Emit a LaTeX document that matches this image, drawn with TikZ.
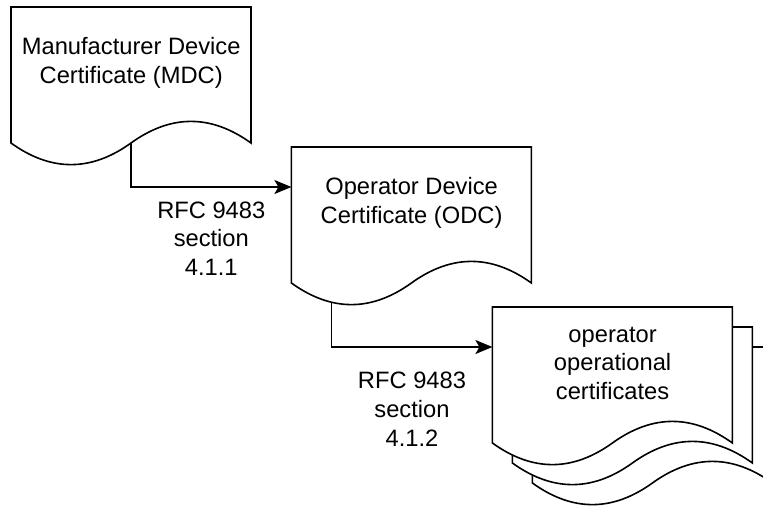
\documentclass[tikz,border=0pt]{standalone}
\usepackage{fontspec}
\setmainfont{Liberation Sans}
\usetikzlibrary{positioning, arrows.meta, backgrounds}

\tikzset{
  doc/.style={minimum width=240pt, minimum height=112pt, inner sep=0pt, align=center},
  page/.style={draw, line width=1.6pt, fill=white},
  conn/.style={line width=1.6pt, -{Stealth[length=17pt, width=14pt, inset=4pt]}},
  lbl/.style={inner sep=0pt, align=center, anchor=north}
}
% one sheet with a wavy lower edge, top left corner at #2
\newcommand{\docpage}[2][]{\draw[page, shift={(#2)}, #1] (0,0) -- (240,0) -- (240,136)
  .. controls (200,107.2) and (160,107.2) .. (120,136)
  .. controls (80,164.8) and (40,164.8) .. (0,136) -- cycle;}

\begin{document}
\begin{tikzpicture}[x=1pt, y=-1pt, font=\fontsize{23.7pt}{28.7pt}\selectfont]
\useasboundingbox (0,0) rectangle (763,507);
\node[doc, anchor=north west] (mdc) at (11,7) {Manufacturer Device\\Certificate (MDC)};
\node[doc, below right=140pt and 40pt of mdc.north east] (odc) {Operator Device\\Certificate (ODC)};
\node[doc, below right=160pt and 201pt of odc.north west] (ooc) {operator\\operational\\certificates};

\begin{scope}[on background layer]
\docpage[xshift=40pt, yshift=-40pt]{ooc.north west}
\docpage[xshift=20pt, yshift=-20pt]{ooc.north west}
\docpage{ooc.north west}
\docpage{mdc.north west}
\docpage{odc.north west}
\end{scope}

\draw[conn] ([yshift=-24pt]mdc.south) |- ([yshift=-40pt]odc.north west)
    node[lbl, pos=0.75, yshift=-13.7pt] (rfc1) {RFC 9483\\section\\4.1.1};
\draw[conn] ([xshift=-80pt, yshift=-43.2pt]odc.south) |- ([yshift=-40pt]ooc.north west)
    node[lbl, pos=0.75, yshift=-24.5pt] (rfc2) {RFC 9483\\section\\4.1.2};
\end{tikzpicture}
\end{document}
